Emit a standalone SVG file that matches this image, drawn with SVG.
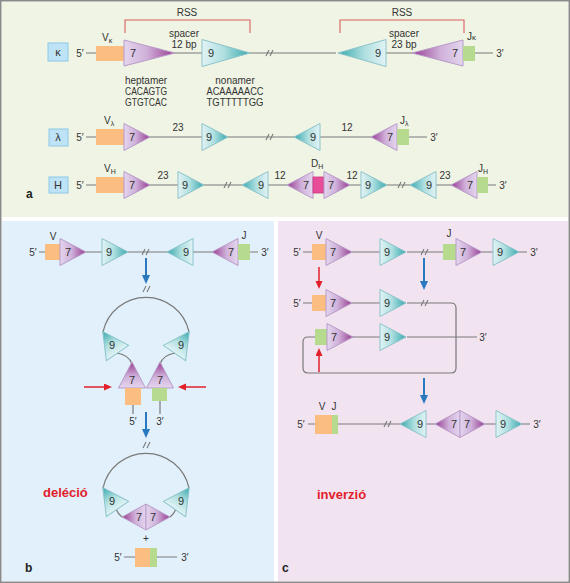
<svg xmlns="http://www.w3.org/2000/svg" xmlns:xlink="http://www.w3.org/1999/xlink" width="570" height="583" viewBox="0 0 570 583">
<style>
text{font-family:"Liberation Sans",Arial,sans-serif;font-size:10px;fill:#333}
.m{text-anchor:middle}
.n{font-size:11px;text-anchor:middle}
.ln{stroke:#7a7a7a;stroke-width:1.2;fill:none}
.v{fill:#fbbd80}
.j{fill:#b6db8f}
.d{fill:#e84d9a;stroke:#c83a80;stroke-width:0.8}
.kb{fill:#bfe3f6;stroke:#8ec7e6;stroke-width:1}
.rss{stroke:#d9605f;stroke-width:1.1;fill:none}
.ba{stroke:#2a78bd;stroke-width:2;fill:none;marker-end:url(#ab)}
.ra{stroke:#e2202c;stroke-width:1.5;fill:none;marker-end:url(#ar)}
.red{fill:#e2202c;font-weight:bold;font-size:13px}
.lab{font-weight:bold;font-size:12px;fill:#222}
</style>
<defs>
<linearGradient id="gH" x1="0" y1="0" x2="1" y2="0">
<stop offset="0" stop-color="#e4d6ee"/><stop offset="0.45" stop-color="#cfb0d9"/><stop offset="1" stop-color="#983a91"/>
</linearGradient>
<linearGradient id="gN" x1="0" y1="0" x2="1" y2="0">
<stop offset="0" stop-color="#e2f3f5"/><stop offset="0.45" stop-color="#b0dfe0"/><stop offset="1" stop-color="#35a9ad"/>
</linearGradient>
<path id="hs" d="M0,-13.5L26,0L0,13.5Z" fill="url(#gH)" stroke="#b89bc9" stroke-width="1"/>
<path id="ns" d="M0,-13.5L26,0L0,13.5Z" fill="url(#gN)" stroke="#8cc3cb" stroke-width="1"/>
<path id="hl" d="M0,-13L51,0L0,13Z" fill="url(#gH)" stroke="#b89bc9" stroke-width="1"/>
<path id="nl" d="M0,-13.5L48,0L0,13.5Z" fill="url(#gN)" stroke="#8cc3cb" stroke-width="1"/>
<path id="brk" d="M-4,3L-1,-3M0,3L3,-3" stroke="#7a7a7a" stroke-width="1.1" fill="none"/>
<marker id="ab" markerUnits="userSpaceOnUse" markerWidth="10" markerHeight="10" refX="1" refY="4" orient="auto">
<path d="M0,0L9,4L0,8Z" fill="#2a78bd"/>
</marker>
<marker id="ar" markerUnits="userSpaceOnUse" markerWidth="10" markerHeight="10" refX="1" refY="3.5" orient="auto">
<path d="M0,0L8,3.5L0,7Z" fill="#e2202c"/>
</marker>
</defs>

<rect x="0" y="0" width="570" height="583" fill="#ffffff"/>
<rect x="0.75" y="0.75" width="568.5" height="581.5" fill="none" stroke="#8a8a8a" stroke-width="1.5"/>
<rect x="2" y="2" width="566" height="215" fill="#eff4e4"/>
<rect x="2" y="221" width="272" height="360" fill="#e1f0fa"/>
<rect x="278" y="221" width="290" height="360" fill="#f1e4f0"/>

<!-- connectors -->
<g id="connectors">
<!-- kappa -->
<path class="ln" d="M86,53H96M174,53H202M250,53H336M386,53H413M475,53H493"/>
<!-- lambda -->
<path class="ln" d="M86,137H96M150,137H202M228,137H294M320,137H371M409,137H427"/>
<!-- H -->
<path class="ln" d="M86,185H96M150,185H178M204,185H242M268,185H287M350,185H361M387,185H410M436,185H451M488,185H496"/>
<!-- b row -->
<path class="ln" d="M39,252H45M86,252H102M128,252H167M193,252H212M250,252H258"/>
<!-- b loop 1 -->
<path class="ln" d="M103,332A44,44 0 0 1 189,332"/>
<path class="ln" d="M117,353Q129,355 132,364M175,353Q163,355 160,364"/>
<path class="ln" d="M133,405V414M160,401V414"/>
<!-- b loop 2 -->
<path class="ln" d="M103,488A44,44 0 0 1 189,488"/>
<path class="ln" d="M116,509Q118,514 122,517M176,509Q174,514 170,517"/>
<path class="ln" d="M124,557H135M157,557H177"/>
<!-- c rows -->
<path class="ln" d="M303,252H312M352,252H380M407,252H443M482,252H493M519,252H527"/>
<path class="ln" d="M303,303H312M352,303H380M407,303H451Q456,303 456,308V368Q456,373 451,373H308Q303,373 303,368V342Q303,337 308,337H315"/>
<path class="ln" d="M352,337H380M407,337H477"/>
<path class="ln" d="M308,424H315M338,424H400M426,424H435M485,424H496M522,424H530"/>
<!-- breaks -->
<use xlink:href="#brk" x="270" y="53"/>
<use xlink:href="#brk" x="270" y="137"/>
<use xlink:href="#brk" x="228" y="185"/>
<use xlink:href="#brk" x="402" y="185"/>
<use xlink:href="#brk" x="146" y="252"/>
<use xlink:href="#brk" x="147" y="289"/>
<use xlink:href="#brk" x="147" y="445"/>
<use xlink:href="#brk" x="425" y="252"/>
<use xlink:href="#brk" x="425" y="303"/>
<use xlink:href="#brk" x="388" y="424"/>
<!-- RSS brackets -->
<path class="rss" d="M125,33V20H250V33M340,33V20H464V33"/>
<!-- arrows -->
<path class="ba" d="M146,258V276"/>
<path class="ba" d="M146,412V430"/>
<path class="ba" d="M424,258V282"/>
<path class="ba" d="M424,378V396"/>
<path class="ra" d="M84,387H105"/>
<path class="ra" d="M206,387H185"/>
<path class="ra" d="M319,267V282"/>
<path class="ra" d="M319,372V355"/>
</g>

<!-- panel a -->
<g id="a-labels">
<text class="m" x="187" y="16" font-size="10">RSS</text>
<text class="m" x="402" y="16">RSS</text>
<text class="m" x="184" y="37">spacer</text>
<text class="m" x="184" y="48">12 bp</text>
<text class="m" x="404" y="37">spacer</text>
<text class="m" x="404" y="48">23 bp</text>
<text class="m" x="146" y="84">heptamer</text>
<text class="m" x="146" y="95" textLength="42" lengthAdjust="spacingAndGlyphs">CACAGTG</text>
<text class="m" x="146" y="106" textLength="42" lengthAdjust="spacingAndGlyphs">GTGTCAC</text>
<text class="m" x="235" y="84">nonamer</text>
<text class="m" x="235" y="95" textLength="57" lengthAdjust="spacingAndGlyphs">ACAAAAACC</text>
<text class="m" x="235" y="106" textLength="57" lengthAdjust="spacingAndGlyphs">TGTTTTTGG</text>
<text class="lab" x="26" y="198">a</text>
</g>

<g id="row-kappa">
<rect class="kb" x="48" y="43" width="20" height="18"/>
<text class="n" x="58" y="56">κ</text>
<text class="m" x="80" y="57">5′</text>
<rect class="v" x="96" y="46" width="28" height="15"/>
<text x="102" y="41">V<tspan font-size="7" dy="2">κ</tspan></text>
<use xlink:href="#hl" transform="translate(124,53)"/>
<text class="n" x="133" y="57">7</text>
<use xlink:href="#nl" transform="translate(202,53)"/>
<text class="n" x="211" y="57">9</text>
<use xlink:href="#nl" transform="translate(386,53) scale(-1,1)"/>
<text class="n" x="378" y="57">9</text>
<use xlink:href="#hl" transform="translate(463,53) scale(-1,1)"/>
<text class="n" x="455" y="57">7</text>
<rect class="j" x="463" y="46" width="12" height="15"/>
<text x="467" y="40">J<tspan font-size="8">κ</tspan></text>
<text class="m" x="500" y="57">3′</text>
</g>

<g id="row-lambda">
<rect class="kb" x="49" y="129" width="19" height="17"/>
<text class="n" x="58" y="141">λ</text>
<text class="m" x="80" y="141">5′</text>
<rect class="v" x="96" y="129" width="28" height="16"/>
<text x="104" y="124">V<tspan font-size="7" dy="2">λ</tspan></text>
<use xlink:href="#hs" transform="translate(124,137)"/>
<text class="n" x="132" y="141">7</text>
<text class="m" x="178" y="131">23</text>
<use xlink:href="#ns" transform="translate(202,137)"/>
<text class="n" x="209" y="141">9</text>
<use xlink:href="#ns" transform="translate(320,137) scale(-1,1)"/>
<text class="n" x="313" y="141">9</text>
<text class="m" x="347" y="131">12</text>
<use xlink:href="#hs" transform="translate(397,137) scale(-1,1)"/>
<text class="n" x="390" y="141">7</text>
<rect class="j" x="397" y="129" width="12" height="16"/>
<text x="400" y="124">J<tspan font-size="7" dy="2">λ</tspan></text>
<text class="m" x="434" y="141">3′</text>
</g>

<g id="row-H">
<rect class="kb" x="49" y="177" width="19" height="16"/>
<text class="n" x="58" y="189" font-size="12">H</text>
<text class="m" x="80" y="189">5′</text>
<rect class="v" x="96" y="177" width="28" height="16"/>
<text x="104" y="172">V<tspan font-size="7" dy="2">H</tspan></text>
<use xlink:href="#hs" transform="translate(124,185)"/>
<text class="n" x="132" y="189">7</text>
<text class="m" x="163" y="179">23</text>
<use xlink:href="#ns" transform="translate(178,185)"/>
<text class="n" x="185" y="189">9</text>
<use xlink:href="#ns" transform="translate(268,185) scale(-1,1)"/>
<text class="n" x="261" y="189">9</text>
<text class="m" x="280" y="179">12</text>
<use xlink:href="#hs" transform="translate(313,185) scale(-1,1)"/>
<text class="n" x="306" y="189">7</text>
<rect class="d" x="313" y="177" width="11" height="16"/>
<text x="311" y="167">D<tspan font-size="7" dy="2">H</tspan></text>
<use xlink:href="#hs" transform="translate(324,185)"/>
<text class="n" x="331" y="189">7</text>
<text class="m" x="352" y="179">12</text>
<use xlink:href="#ns" transform="translate(361,185)"/>
<text class="n" x="368" y="189">9</text>
<use xlink:href="#ns" transform="translate(436,185) scale(-1,1)"/>
<text class="n" x="429" y="189">9</text>
<text class="m" x="445" y="179">23</text>
<use xlink:href="#hs" transform="translate(477,185) scale(-1,1)"/>
<text class="n" x="470" y="189">7</text>
<rect class="j" x="477" y="177" width="11" height="16"/>
<text x="478" y="172">J<tspan font-size="7" dy="2">H</tspan></text>
<text class="m" x="503" y="189">3′</text>
</g>

<!-- panel b -->
<g id="b-row">
<text class="m" x="33" y="256">5′</text>
<rect class="v" x="45" y="244" width="15" height="16"/>
<text class="m" x="53" y="240">V</text>
<use xlink:href="#hs" transform="translate(60,252)"/>
<text class="n" x="68" y="256">7</text>
<use xlink:href="#ns" transform="translate(102,252)"/>
<text class="n" x="109" y="256">9</text>
<use xlink:href="#ns" transform="translate(193,252) scale(-1,1)"/>
<text class="n" x="186" y="256">9</text>
<use xlink:href="#hs" transform="translate(238,252) scale(-1,1)"/>
<text class="n" x="231" y="256">7</text>
<rect class="j" x="238" y="244" width="12" height="16"/>
<text class="m" x="244" y="239">J</text>
<text class="m" x="265" y="256">3′</text>
</g>

<g id="b-loop1">
<use xlink:href="#ns" transform="translate(117.5,353) rotate(-124.6)"/>
<text class="n" x="112" y="349">9</text>
<use xlink:href="#ns" transform="translate(174.5,353) rotate(-55.4)"/>
<text class="n" x="181" y="349">9</text>
<use xlink:href="#hs" transform="translate(132,388) rotate(-90)"/>
<text class="n" x="132" y="384">7</text>
<use xlink:href="#hs" transform="translate(160,388) rotate(-90)"/>
<text class="n" x="160" y="384">7</text>
<rect class="v" x="125" y="388" width="16" height="17"/>
<rect class="j" x="152" y="388" width="15" height="13"/>
<text class="m" x="133" y="425">5′</text>
<text class="m" x="160" y="425">3′</text>
</g>

<g id="b-loop2">
<use xlink:href="#ns" transform="translate(117.5,509) rotate(-124.6)"/>
<text class="n" x="112" y="505">9</text>
<use xlink:href="#ns" transform="translate(174.5,509) rotate(-55.4)"/>
<text class="n" x="181" y="505">9</text>
<use xlink:href="#hs" transform="translate(146,517) scale(-0.92,0.96)"/>
<use xlink:href="#hs" transform="translate(146,517) scale(0.92,0.96)"/>
<text class="n" x="139" y="521">7</text>
<text class="n" x="153" y="521">7</text>
<text class="red" x="43" y="497">deléció</text>
<text class="m" x="146" y="542">+</text>
<text class="m" x="118" y="561">5′</text>
<rect class="v" x="135" y="548" width="15" height="19"/>
<rect class="j" x="150" y="548" width="7" height="19"/>
<text class="m" x="185" y="561">3′</text>
<text class="lab" x="25" y="572">b</text>
</g>

<!-- panel c -->
<g id="c-row1">
<text class="m" x="297" y="256">5′</text>
<rect class="v" x="312" y="244" width="14" height="16"/>
<text class="m" x="319" y="239">V</text>
<use xlink:href="#hs" transform="translate(326,252)"/>
<text class="n" x="333" y="256">7</text>
<use xlink:href="#ns" transform="translate(380,252)"/>
<text class="n" x="387" y="256">9</text>
<rect class="j" x="443" y="244" width="13" height="16"/>
<text class="m" x="449" y="237">J</text>
<use xlink:href="#hs" transform="translate(456,252)"/>
<text class="n" x="463" y="256">7</text>
<use xlink:href="#ns" transform="translate(493,252)"/>
<text class="n" x="500" y="256">9</text>
<text class="m" x="534" y="256">3′</text>
</g>

<g id="c-row2">
<text class="m" x="297" y="307">5′</text>
<rect class="v" x="312" y="295" width="14" height="16"/>
<use xlink:href="#hs" transform="translate(326,303)"/>
<text class="n" x="333" y="307">7</text>
<use xlink:href="#ns" transform="translate(380,303)"/>
<text class="n" x="387" y="307">9</text>
</g>

<g id="c-row3">
<rect class="j" x="315" y="329" width="12" height="16"/>
<use xlink:href="#hs" transform="translate(327,337)"/>
<text class="n" x="334" y="341">7</text>
<use xlink:href="#ns" transform="translate(380,337)"/>
<text class="n" x="387" y="341">9</text>
<text class="m" x="483" y="341">3′</text>
</g>

<g id="c-result">
<text class="m" x="322" y="410">V</text>
<text class="m" x="334" y="410">J</text>
<text class="m" x="301" y="428">5′</text>
<rect class="v" x="315" y="415" width="17" height="19"/>
<rect class="j" x="332" y="415" width="6" height="19"/>
<use xlink:href="#ns" transform="translate(426,424) scale(-1,1)"/>
<text class="n" x="420" y="428">9</text>
<use xlink:href="#hs" transform="translate(460,424) scale(-0.96,1)"/>
<use xlink:href="#hs" transform="translate(460,424) scale(0.96,1)"/>
<text class="n" x="454" y="428">7</text>
<text class="n" x="467" y="428">7</text>
<use xlink:href="#ns" transform="translate(496,424)"/>
<text class="n" x="503" y="428">9</text>
<text class="m" x="537" y="428">3′</text>
<text class="red" x="317" y="499">inverzió</text>
<text class="lab" x="282" y="572">c</text>
</g>
</svg>
